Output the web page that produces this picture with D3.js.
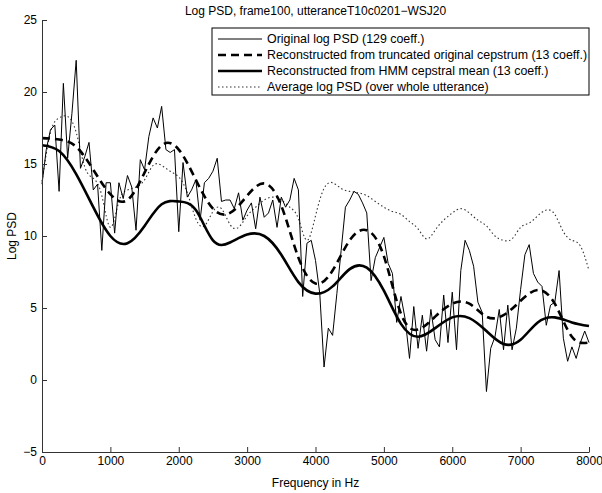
<!DOCTYPE html>
<html>
<head>
<meta charset="utf-8">
<script src="https://cdn.jsdelivr.net/npm/d3@7"></script>
<style>
body{margin:0;background:#fff;}
svg{font-family:"Liberation Sans",Arial,Helvetica,sans-serif;}
</style>
</head>
<body>
<svg class="main"></svg>
<script>
// original log PSD, 129 bins, 62.5 Hz apart
let origStep = 62.5;
let originalPSD = [
  13.6,16.0,17.4,17.7,13.1,20.6,15.4,18.5,22.2,14.7,
  15.5,16.5,13.2,13.6,9.0,13.7,13.7,10.2,13.7,12.6,
  14.2,13.4,10.4,15.3,14.6,16.9,18.2,17.5,19.0,16.0,
  15.8,16.0,10.3,15.1,12.7,13.2,13.9,11.1,13.7,14.0,
  14.5,15.4,12.4,12.5,12.5,11.9,13.0,11.1,11.8,12.3,
  10.5,12.7,11.3,11.6,12.5,10.6,12.7,12.0,12.5,14.0,
  13.2,5.8,9.5,9.7,8.3,6.0,0.9,3.6,3.1,6.0,
  9.0,12.0,12.5,13.1,12.9,12.3,11.6,6.9,8.5,9.2,
  9.9,8.1,7.4,4.0,5.8,4.2,1.5,5.1,2.2,4.5,
  2.0,4.9,2.8,2.3,5.9,2.6,6.1,2.1,7.6,9.7,
  9.0,7.9,5.4,4.7,-0.8,2.2,3.0,4.9,2.1,5.2,
  2.1,3.6,6.3,8.7,9.4,7.4,6.8,6.5,3.8,5.2,
  5.4,7.6,2.9,1.3,2.3,1.5,2.6,3.4,2.6
];

// smooth reconstructions, read every 250 Hz
let smoothStep = 250;
let truncCeps = [16.8,16.7,16.2,14.6,12.9,12.5,14.4,16.3,16.0,13.9,11.9,11.6,12.8,13.65,12.1,8.5,6.7,
  7.6,9.7,10.4,8.6,4.6,3.5,4.4,5.3,5.3,4.4,4.5,5.5,6.25,5.3,3.0,2.6];
let hmmMean = [16.3,15.9,14.3,12.0,10.0,9.5,10.7,12.2,12.4,11.8,9.7,9.55,10.1,10.0,8.7,6.8,6.0,
  6.5,7.7,7.8,6.2,3.9,3.0,3.6,4.35,4.3,3.4,2.5,2.8,4.0,4.35,4.0,3.75];

// average log PSD, read every 125 Hz
let avgStep = 125;
let avgPSD = [
  13.8,17.2,18.2,18.3,17.2,14.8,14.0,12.8,10.6,12.4,
  13.2,13.4,13.9,14.9,14.9,14.5,14.1,13.0,11.2,10.7,
  11.7,11.9,10.8,10.6,11.4,12.0,12.5,12.7,12.5,12.0,
  11.2,9.7,11.4,13.3,13.7,13.3,13.1,13.0,12.8,12.4,
  12.0,11.7,11.5,11.0,10.5,9.8,10.4,11.1,11.6,11.9,
  11.6,11.1,10.7,10.0,9.7,9.8,10.6,10.9,11.4,11.8,
  11.5,10.3,9.7,9.3,7.6
];

let xTicks = [0,1000,2000,3000,4000,5000,6000,7000,8000];
let yTicks = [-5,0,5,10,15,20,25];
let legendLabels = [
  'Original log PSD (129 coeff.)',
  'Reconstructed from truncated original cepstrum (13 coeff.)',
  'Reconstructed from HMM cepstral mean (13 coeff.)',
  'Average log PSD (over whole utterance)'
];

let w = 602, h = 493;
let fs = 12;
let svg = d3.select('.main').attr('width', w).attr('height', h);

let x = d3.scaleLinear().domain([0, 8000]).range([42, 589]);
let y = d3.scaleLinear().domain([-5, 25]).range([452, 20]);

let toPts = (arr, step) => arr.map((v, i) => [i * step, v]);

// line styles for the four series
let styles = [
  {w: 1, dash: null, color: '#000'},
  {w: 2.6, dash: '8,5', color: '#000'},
  {w: 2.6, dash: null, color: '#000'},
  {w: 1.1, dash: '1.5,2.5', color: '#333'}
];

let lineLin = d3.line().x(d => x(d[0])).y(d => y(d[1]));
let lineSmooth = d3.line().x(d => x(d[0])).y(d => y(d[1])).curve(d3.curveNatural);

let series = [
  {pts: toPts(originalPSD, origStep), gen: lineLin, st: styles[0]},
  {pts: toPts(truncCeps, smoothStep), gen: lineSmooth, st: styles[1]},
  {pts: toPts(hmmMean, smoothStep), gen: lineSmooth, st: styles[2]},
  {pts: toPts(avgPSD, avgStep), gen: lineSmooth, st: styles[3]}
];

// draw order: dotted first, thin last
[3, 1, 2, 0].forEach(k => {
  let s = series[k];
  svg.append('path')
    .attr('d', s.gen(s.pts))
    .attr('fill', 'none')
    .attr('stroke', s.st.color)
    .attr('stroke-width', s.st.w)
    .attr('stroke-dasharray', s.st.dash)
    .attr('stroke-linejoin', 'round');
});

// axes
let xAxis = svg.append('g')
  .attr('transform', 'translate(0,452)')
  .call(d3.axisBottom(x).tickValues(xTicks).tickFormat(d3.format('d')).tickSize(-5).tickSizeOuter(0).tickPadding(4));
let yAxis = svg.append('g')
  .attr('transform', 'translate(42,0)')
  .call(d3.axisLeft(y).tickValues(yTicks).tickFormat(d => d < 0 ? '\u2212' + Math.abs(d) : d).tickSize(-5).tickSizeOuter(0).tickPadding(5));

[xAxis, yAxis].forEach(a => {
  a.selectAll('path,line').attr('stroke', '#333');
  a.selectAll('text').attr('font-size', fs).attr('fill', '#000').style('font-family', 'inherit');
});

// titles
svg.append('text').attr('x', 315.5).attr('y', 15).attr('text-anchor', 'middle')
  .attr('font-size', fs).text('Log PSD, frame100, utteranceT10c0201\u2212WSJ20');
svg.append('text').attr('x', 315.5).attr('y', 487).attr('text-anchor', 'middle')
  .attr('font-size', fs).text('Frequency in Hz');
svg.append('text').attr('transform', 'translate(16,236) rotate(-90)').attr('text-anchor', 'middle')
  .attr('font-size', fs).text('Log PSD');

// legend
let legend = svg.append('g').attr('id', 'legend');
legend.append('rect').attr('x', 212).attr('y', 28).attr('width', 377).attr('height', 67)
  .attr('fill', '#fff').attr('stroke', '#000').attr('stroke-width', 1);
legendLabels.forEach((lab, i) => {
  let ly = 39 + i * 16;
  let st = styles[i];
  legend.append('line').attr('x1', 218).attr('x2', 262).attr('y1', ly).attr('y2', ly)
    .attr('stroke', st.color).attr('stroke-width', st.w).attr('stroke-dasharray', st.dash);
  legend.append('text').attr('x', 267).attr('y', ly + 4).attr('font-size', 12.4).text(lab);
});
</script>
</body>
</html>
